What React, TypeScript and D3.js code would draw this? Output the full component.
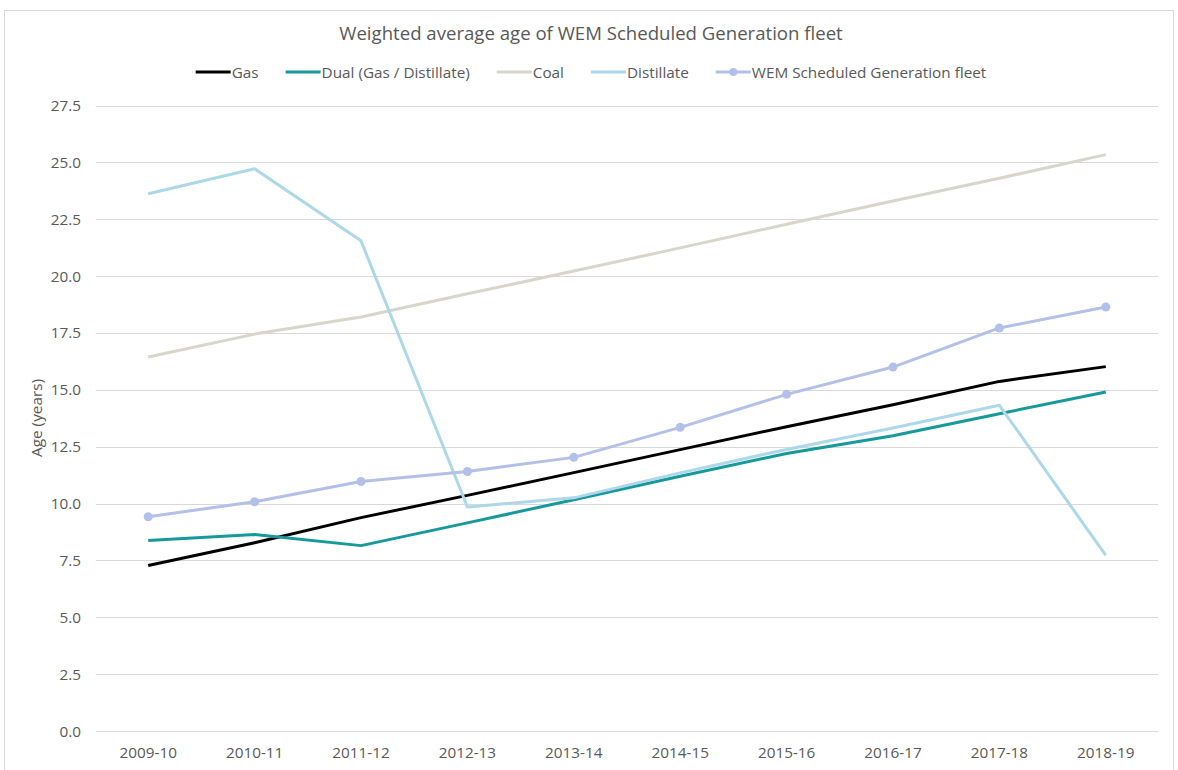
import * as React from 'react';
import * as d3 from 'd3';

const years = ['2009-10', '2010-11', '2011-12', '2012-13', '2013-14', '2014-15', '2015-16', '2016-17', '2017-18', '2018-19'];
const gas = [7.28, 8.28, 9.38, 10.36, 11.36, 12.37, 13.38, 14.34, 15.37, 16.02];
const dual = [8.37, 8.64, 8.15, 9.15, 10.17, 11.2, 12.2, 12.98, 13.95, 14.9];
const coal = [16.44, 17.45, 18.2, 19.22, 20.22, 21.24, 22.28, 23.3, 24.3, 25.34];
const distillate = [23.62, 24.72, 21.55, 9.85, 10.25, 11.35, 12.38, 13.32, 14.32, 7.72];
const fleet = [9.42, 10.08, 10.97, 11.41, 12.03, 13.35, 14.8, 16.0, 17.72, 18.64];
const yTicks = [0, 2.5, 5, 7.5, 10, 12.5, 15, 17.5, 20, 22.5, 25, 27.5];

const series = [
  {name: 'Gas', values: gas, color: '#000000', marker: false},
  {name: 'Dual (Gas / Distillate)', values: dual, color: '#16999b', marker: false},
  {name: 'Coal', values: coal, color: '#d8d5cc', marker: false},
  {name: 'Distillate', values: distillate, color: '#acd8ea', marker: false},
  {name: 'WEM Scheduled Generation fleet', values: fleet, color: '#b3c0ea', marker: true},
];

const FONT = 'Open Sans, sans-serif';
const TEXT = '#595959';
const FS = 15.3;

export default function App() {
  const ref = React.useRef<SVGSVGElement>(null);

  React.useEffect(() => {
    const svg = d3.select(ref.current);
    svg.selectAll('*').remove();

    // chart border
    svg.append('rect')
      .attr('x', 4.5).attr('y', 10.5)
      .attr('width', 1169).attr('height', 770)
      .attr('fill', '#fff').attr('stroke', '#d9d9d9');

    const x = d3.scalePoint().domain(years).range([95, 1159]).padding(0.5);
    const y = d3.scaleLinear().domain([0, 27.5]).range([731, 105.5]);

    // gridlines
    svg.append('g').selectAll('line').data(yTicks)
      .enter().append('line')
      .attr('x1', 96).attr('x2', 1158)
      .attr('y1', d => Math.round(y(d)) + 0.5).attr('y2', d => Math.round(y(d)) + 0.5)
      .attr('stroke', '#d9d9d9');

    svg.append('g').selectAll('text').data(yTicks)
      .enter().append('text')
      .attr('x', 81).attr('y', d => y(d) + 5.5)
      .attr('text-anchor', 'end')
      .attr('font-family', FONT).attr('font-size', FS).attr('fill', TEXT)
      .text(d => d3.format('.1f')(d));

    svg.append('g').selectAll('text').data(years)
      .enter().append('text')
      .attr('x', d => x(d) as number).attr('y', 758)
      .attr('text-anchor', 'middle')
      .attr('font-family', FONT).attr('font-size', FS).attr('fill', TEXT)
      .text(d => d);

    svg.append('text')
      .attr('transform', 'translate(41.5,418) rotate(-90)')
      .attr('text-anchor', 'middle')
      .attr('font-family', FONT).attr('font-size', FS).attr('fill', TEXT)
      .text('Age (years)');

    svg.append('text')
      .attr('x', 591).attr('y', 40)
      .attr('text-anchor', 'middle')
      .attr('font-family', FONT).attr('font-size', 18.6).attr('fill', TEXT)
      .text('Weighted average age of WEM Scheduled Generation fleet');

    const line = d3.line<number>()
      .x((d, i) => x(years[i]) as number)
      .y(d => y(d));

    series.forEach(s => {
      svg.append('path')
        .datum(s.values)
        .attr('d', line)
        .attr('fill', 'none')
        .attr('stroke', s.color)
        .attr('stroke-width', 3)
        .attr('stroke-linejoin', 'round');
      if (s.marker) {
        svg.append('g').selectAll('circle').data(s.values)
          .enter().append('circle')
          .attr('cx', (d, i) => x(years[i]) as number)
          .attr('cy', d => y(d))
          .attr('r', 4.5)
          .attr('fill', s.color);
      }
    });

    // legend, measured and centred
    const legend = svg.append('g');
    let cursor = 0;
    series.forEach((s, i) => {
      const item = legend.append('g').attr('transform', `translate(${cursor},0)`);
      item.append('line')
        .attr('x1', 0).attr('x2', 35).attr('y1', 0).attr('y2', 0)
        .attr('stroke', s.color).attr('stroke-width', 3);
      if (s.marker) {
        item.append('circle').attr('cx', 17.5).attr('cy', 0).attr('r', 4).attr('fill', s.color);
      }
      const t = item.append('text')
        .attr('x', 36).attr('y', 5.5)
        .attr('font-family', FONT).attr('font-size', FS).attr('fill', TEXT)
        .text(s.name);
      const w = (t.node() as SVGTextElement).getComputedTextLength();
      cursor += 36 + w + (i < series.length - 1 ? 27 : 0);
    });
    legend.attr('transform', `translate(${591 - cursor / 2},72)`);
  }, []);

  return (
    <svg ref={ref} width={1178} height={770} style={{position: 'absolute', left: 0, top: 0}}></svg>
  );
}
